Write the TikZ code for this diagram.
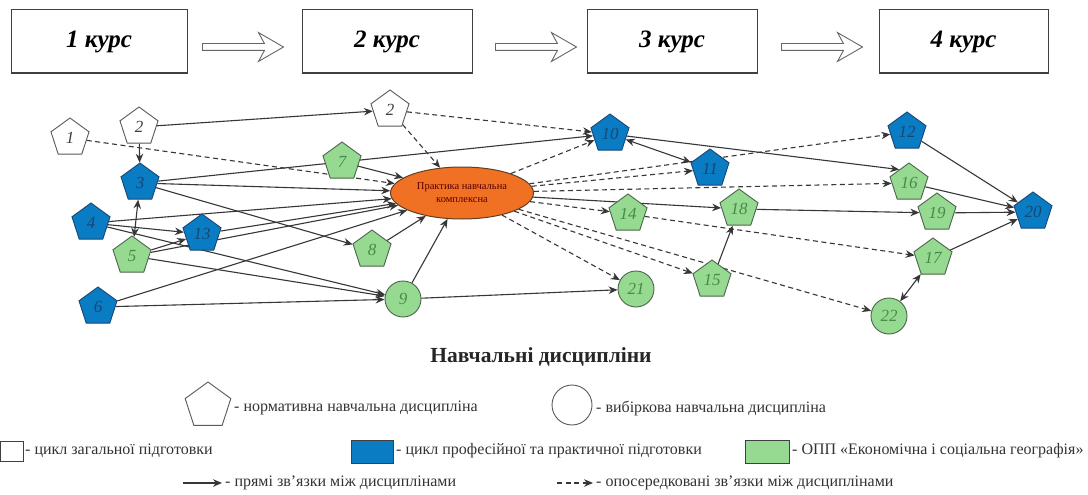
\documentclass[tikz,border=0pt]{standalone}
\usepackage{fontspec}
\setmainfont{Liberation Serif}
\usetikzlibrary{shapes.geometric,shapes.arrows,arrows.meta,backgrounds}
\definecolor{nblue}{RGB}{10,124,196}
\definecolor{nblueD}{RGB}{25,70,115}
\definecolor{ngreen}{RGB}{150,218,146}
\definecolor{ngreenD}{RGB}{75,100,75}
\definecolor{ngreenT}{RGB}{70,140,70}
\definecolor{norange}{RGB}{240,112,36}
\definecolor{lc}{RGB}{55,55,55}
\begin{document}
\begin{tikzpicture}[x=1pt,y=-1pt,
  pent/.style={regular polygon, regular polygon sides=5, minimum size=40pt, inner sep=0pt, line width=0.9pt, font=\itshape\fontsize{17}{17}\selectfont},
  wp/.style={pent, draw=black!65, fill=white, text=black!75},
  bp/.style={pent, draw=nblueD, fill=nblue, text=nblueD},
  gp/.style={pent, draw=ngreenD, fill=ngreen, text=ngreenT},
  gc/.style={circle, minimum size=36pt, inner sep=0pt, line width=0.9pt, draw=ngreenD, fill=ngreen, text=ngreenT, font=\itshape\fontsize{17}{17}\selectfont},
  ellnode/.style={ellipse, minimum width=143pt, minimum height=52pt, inner sep=0pt, fill=norange, draw=brown!50!black, line width=1pt, align=center, text=red!35!black, font=\fontsize{10.5}{13}\selectfont},
  course/.style={draw=black!75, line width=1pt, minimum height=63pt, inner sep=0pt, font=\bfseries\itshape\fontsize{25}{25}\selectfont},
  blockarrow/.style={single arrow, draw=black!60, fill=white, line width=0.9pt, minimum height=81pt, inner xsep=0pt, inner ysep=3pt, single arrow head extend=11pt, single arrow tip angle=60, single arrow head indent=6pt},
  sol/.style={draw=lc, line width=1.1pt, -{Stealth[length=9pt,width=7.5pt]}},
  dsh/.style={sol, dash pattern=on 5pt off 3.5pt},
  dbl/.style={draw=lc, line width=1.1pt, {Stealth[length=9pt,width=7.5pt]}-{Stealth[length=9pt,width=7.5pt]}},
  lt/.style={anchor=west, inner sep=0pt, text=black!80, font=\fontsize{16}{16}\selectfont},
  legrect/.style={draw=black!75, line width=0.9pt, inner sep=0pt}
]
\useasboundingbox (0,0) rectangle (1088,495);

% course boxes
\node[course, minimum width=176pt] (c1) at (99,41.5) {1 курс};
\node[course, minimum width=170pt] (c2) at (387,41.5) {2 курс};
\node[course, minimum width=170pt] (c3) at (672,41.5) {3 курс};
\node[course, minimum width=169pt] (c4) at (963.5,41.5) {4 курс};
\foreach \c in {c1,c2,c3,c4}{
  \draw[line width=1.8pt, draw=black!75] (\c.north west) -- (\c.north east);
  \draw[line width=1.8pt, draw=black!75] (\c.south west) -- (\c.south east);
}
\node[blockarrow] (a1) at (240,47) {};
\node[blockarrow] (a2) at (533,47) {};
\node[blockarrow] (a3) at (819,47) {};

% graph nodes
\node[wp] (n1) at (70,138) {1};
\node[wp] (n2a) at (139,127) {2};
\node[wp] (n2b) at (390,110) {2};
\node[bp] (n3) at (140,183) {3};
\node[bp] (n4) at (91,223) {4};
\node[gp] (n5) at (132,256) {5};
\node[bp] (n6) at (98,307) {6};
\node[gp] (n7) at (342,162) {7};
\node[bp] (n13) at (202,234) {13};
\node[gp] (n8) at (372,250) {8};
\node[gc] (n9) at (403,299) {9};
\node[ellnode] (E) at (462,193) {Практика навчальна\\комплексна};
\node[bp] (n10) at (610,134) {10};
\node[bp] (n11) at (710,169) {11};
\node[gp] (n14) at (628,214) {14};
\node[gc] (n21) at (636,289) {21};
\node[gp] (n18) at (739,209) {18};
\node[gp] (n15) at (712,280) {15};
\node[bp] (n12) at (907,132) {12};
\node[gp] (n16) at (909,183) {16};
\node[gp] (n19) at (937,213) {19};
\node[gp] (n17) at (933,258) {17};
\node[gc] (n22) at (889,316) {22};
\node[bp] (n20) at (1033,212) {20};

% legend
\node[font=\bfseries\fontsize{21.5}{21.5}\selectfont, text=black!85] (title) at (541,357) {Навчальні дисципліни};
\node[wp, minimum size=48pt] (lpent) at (208,406) {};
\node[lt] (lpentt) at (234,408) {- нормативна навчальна дисципліна};
\node[circle, draw=black!65, line width=0.9pt, minimum size=40pt] (lcirc) at (572,405) {};
\node[lt] (lcirct) at (596,408) {- вибіркова навчальна дисципліна};
\node[legrect, fill=white, minimum width=23pt, minimum height=20pt] (r1) at (11.5,451) {};
\node[lt] (r1t) at (25,451) {- цикл загальної підготовки};
\node[legrect, fill=nblue, minimum width=42pt, minimum height=23pt] (r2) at (372,452) {};
\node[lt] (r2t) at (396,451) {- цикл професійної та практичної підготовки};
\node[legrect, fill=ngreen, minimum width=44pt, minimum height=23pt] (r3) at (767,452) {};
\node[lt] (r3t) at (792,451) {- ОПП «Економічна і соціальна географія»};
\coordinate (s1) at (183,483);
\coordinate (s2) at (222,483);
\node[lt] (s3) at (225,483) {- прямі зв’язки між дисциплінами};
\coordinate (d1) at (557,483);
\coordinate (d2) at (593,483);
\node[lt] (d3) at (596,483) {- опосередковані зв’язки між дисциплінами};

\begin{scope}[on background layer]
\fill[white] (0,0) rectangle (1088,495);
\draw[sol] (s1) -- (s2);
\draw[dsh] (d1) -- (d2);
% solid connectors
\draw[sol] (n2a) -- (n2b);
\draw[sol] (n2a) -- (n3);
\draw[dbl] (n3) -- (n5);
\draw[sol] (n4) -- (n13);
\draw[sol] (n5) -- (n13);
\draw[sol] (n3) -- (n10);
\draw[sol] (n3) -- (E);
\draw[sol] (n3) -- (n8);
\draw[sol] (n4) -- (E);
\draw[sol] (n13) -- (E);
\draw[sol] (n5) -- (E);
\draw[sol] (n6) -- (E);
\draw[sol] (n4) -- (n9);
\draw[sol] (n5) -- (n9);
\draw[sol] (n6) -- (n9);
\draw[sol] (n7) -- (E);
\draw[sol] (n8) -- (E);
\draw[sol] (n9) -- (E);
\draw[sol] (n9) -- (n21);
\draw[dbl] (n10) -- (n11);
\draw[sol] (n10) -- (n16.side 1);
\draw[sol] (n16) -- (n20);
\draw[sol] (n12) -- (n20);
\draw[sol] (E) -- (n18);
\draw[sol] (n15) -- (n18);
\draw[sol] (n18) -- (n19);
\draw[sol] (n19) -- (n20);
\draw[sol] (n17) -- (n20);
\draw[dbl] (n22) -- (n17);
% dashed connectors
\draw[dsh] (n1) -- (E);
\draw[dsh] (n2b) -- (n10);
\draw[dsh] (n2b) -- (E);
\draw[dsh] (E) -- (n10);
\draw[dsh] (E) -- (n11);
\draw[dsh] (E) -- (n12);
\draw[dsh] (E) -- (n16);
\draw[dsh] (E) -- (n14);
\draw[dsh] (E) -- (n15);
\draw[dsh] (E) -- (n22);
\draw[dsh] (E) -- (n21);
\draw[dsh] (n14) -- (n17);
\end{scope}
\end{tikzpicture}
\end{document}
